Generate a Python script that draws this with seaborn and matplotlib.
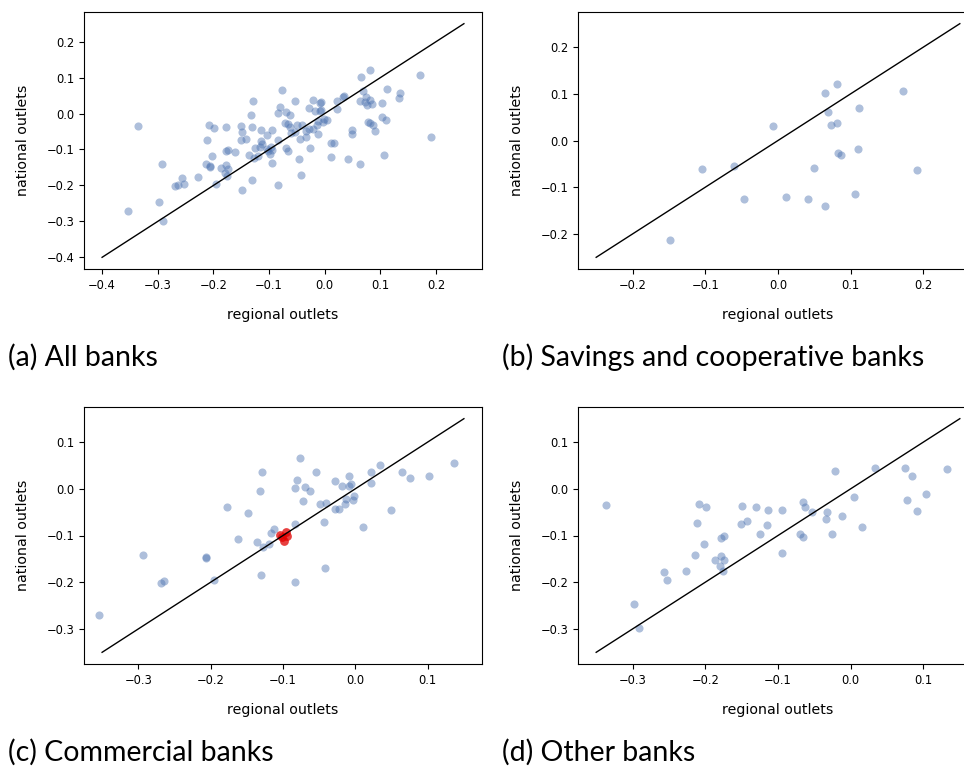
import matplotlib
matplotlib.use("Agg")
import matplotlib.pyplot as plt
import seaborn as sns
import numpy as np

# ---------------- data ----------------
# (b) Savings and cooperative banks
savings_x = [-0.149, -0.104, -0.061, -0.047, -0.007, 0.011, 0.041, 0.049, 0.064, 0.065,
             0.069, 0.073, 0.081, 0.081, 0.082, 0.086, 0.106, 0.110, 0.111, 0.172, 0.191]
savings_y = [-0.213, -0.060, -0.055, -0.126, 0.031, -0.121, -0.126, -0.058, -0.141, 0.101,
             0.062, 0.033, 0.121, 0.038, -0.027, -0.032, -0.115, -0.018, 0.069, 0.106, -0.064]

# (c) Commercial banks
commercial_x = [-0.354, -0.293, -0.269, -0.264, -0.206, -0.206, -0.196, -0.178, -0.162, -0.149,
                -0.136, -0.132, -0.131, -0.129, -0.127, -0.120, -0.117, -0.112, -0.084, -0.084,
                -0.084, -0.080, -0.076, -0.072, -0.069, -0.062, -0.054, -0.049, -0.044, -0.042,
                -0.040, -0.028, -0.028, -0.022, -0.018, -0.014, -0.013, -0.009, -0.009, -0.006,
                -0.003, -0.002, 0.011, 0.022, 0.022, 0.034, 0.049, 0.064, 0.076, 0.102, 0.136]
commercial_y = [-0.271, -0.141, -0.201, -0.198, -0.146, -0.148, -0.195, -0.038, -0.107, -0.051,
                -0.114, -0.005, -0.184, 0.036, -0.124, -0.119, -0.094, -0.086, -0.075, 0.002,
                -0.200, 0.018, 0.066, -0.026, 0.004, -0.004, 0.036, -0.033, -0.071, -0.170,
                -0.031, -0.043, 0.016, -0.043, 0.007, -0.032, -0.021, 0.006, 0.028, 0.011,
                -0.023, -0.016, -0.082, 0.036, 0.012, 0.050, -0.045, 0.036, 0.023, 0.028, 0.056]
# highlighted commercial banks (red)
highlight_x = [-0.104, -0.096, -0.094, -0.098, -0.102]
highlight_y = [-0.099, -0.092, -0.101, -0.112, -0.104]

# (d) Other banks
other_x = [-0.336, -0.298, -0.291, -0.257, -0.252, -0.227, -0.214, -0.211, -0.208, -0.202,
           -0.199, -0.187, -0.180, -0.178, -0.176, -0.174, -0.178, -0.174, -0.151, -0.150,
           -0.142, -0.130, -0.125, -0.115, -0.114, -0.095, -0.094, -0.070, -0.066, -0.066,
           -0.063, -0.053, -0.034, -0.033, -0.026, -0.021, -0.012, 0.004, 0.016, 0.033,
           0.075, 0.078, 0.084, 0.091, 0.103, 0.133]
other_y = [-0.035, -0.247, -0.298, -0.178, -0.195, -0.176, -0.141, -0.074, -0.033, -0.118,
           -0.040, -0.152, -0.166, -0.144, -0.175, -0.153, -0.105, -0.102, -0.075, -0.036,
           -0.070, -0.038, -0.096, -0.077, -0.046, -0.045, -0.138, -0.096, -0.028, -0.104,
           -0.038, -0.050, -0.064, -0.049, -0.096, 0.038, -0.058, -0.018, -0.082, 0.045,
           0.045, -0.023, 0.027, -0.048, -0.011, 0.043]

# 45-degree reference lines
diag_a = [-0.4, 0.25]
diag_b = [-0.25, 0.25]
diag_c = [-0.35, 0.15]
diag_d = [-0.35, 0.15]

captions = ["(a) All banks", "(b) Savings and cooperative banks",
            "(c) Commercial banks", "(d) Other banks"]
xlabel = "regional outlets"
ylabel = "national outlets"

# (a) all banks = union of the three groups
all_x = savings_x + commercial_x + highlight_x + other_x
all_y = savings_y + commercial_y + highlight_y + other_y

# ---------------- plotting ----------------
plt.rcParams["font.family"] = ["DejaVu Sans"]
W, H = 964, 772
fig = plt.figure(figsize=(W / 100, H / 100), dpi=100)

def box(l, t, r, b):
    return [l / W, 1 - b / H, (r - l) / W, (b - t) / H]

ax_a = fig.add_axes(box(84, 12, 482, 269))
ax_b = fig.add_axes(box(578, 12, 978, 269))
ax_c = fig.add_axes(box(84, 407, 482, 664))
ax_d = fig.add_axes(box(578, 407, 978, 664))

blue = "#4c72b0"
panels = [
    (ax_a, all_x, all_y, diag_a, None),
    (ax_b, savings_x, savings_y, diag_b, None),
    (ax_c, commercial_x, commercial_y, diag_c, (highlight_x, highlight_y)),
    (ax_d, other_x, other_y, diag_d, None),
]
for ax, xs, ys, diag, hl in panels:
    sns.scatterplot(x=xs, y=ys, ax=ax, color=blue, alpha=0.45, s=34, linewidth=0)
    if hl is not None:
        sns.scatterplot(x=hl[0], y=hl[1], ax=ax, color="#e00000", alpha=0.75, s=40, linewidth=0)
    sns.lineplot(x=diag, y=diag, ax=ax, color="black", linewidth=1.0)
    span = diag[1] - diag[0]
    ax.set_xlim(diag[0] - 0.05 * span, diag[1] + 0.05 * span)
    ax.set_ylim(diag[0] - 0.05 * span, diag[1] + 0.05 * span)
    ax.set_xlabel(xlabel, fontsize=10.2, labelpad=12)
    ax.set_ylabel(ylabel, fontsize=10.2, labelpad=12)
    ax.tick_params(labelsize=8.3, length=3.5, width=0.8)
    for sp in ax.spines.values():
        sp.set_linewidth(0.8)
        sp.set_color("black")

ax_a.set_xticks([-0.4, -0.3, -0.2, -0.1, 0.0, 0.1, 0.2])
ax_a.set_yticks([-0.4, -0.3, -0.2, -0.1, 0.0, 0.1, 0.2])
ax_b.set_xticks([-0.2, -0.1, 0.0, 0.1, 0.2])
ax_b.set_yticks([-0.2, -0.1, 0.0, 0.1, 0.2])
for ax in (ax_c, ax_d):
    ax.set_xticks([-0.3, -0.2, -0.1, 0.0, 0.1])
    ax.set_yticks([-0.3, -0.2, -0.1, 0.0, 0.1])

cap_pos = [(8, 357), (502, 357), (8, 752), (502, 752)]
for (cx, cy), txt in zip(cap_pos, captions):
    fig.text(cx / W, 1 - cy / H, txt, ha="left", va="center", fontsize=20.5,
             fontweight="normal", family=["Lato", "DejaVu Sans"])

fig.savefig("out.png", dpi=100)
